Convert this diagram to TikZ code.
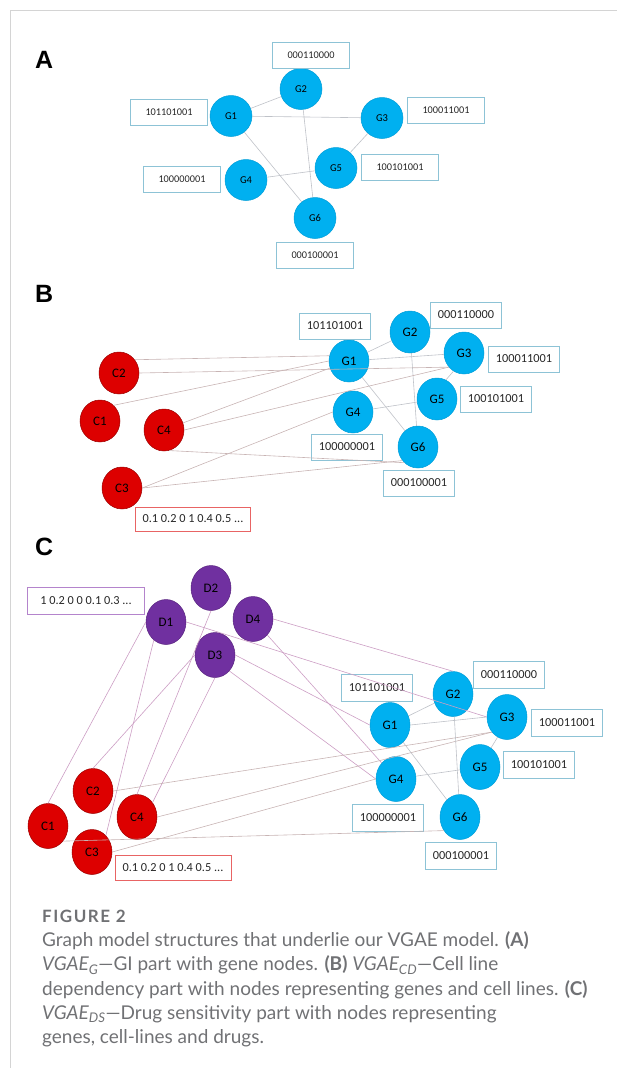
\documentclass[tikz,border=0pt]{standalone}
\usepackage{fontspec}
\setmainfont{Lato}
\newfontfamily\carlito{Carlito}
\newfontfamily\arialbold{Liberation Sans}
\usetikzlibrary{shapes.geometric}

\definecolor{genecyan}{HTML}{00B0F0}
\definecolor{cellred}{HTML}{DD0000}
\definecolor{drugpurple}{HTML}{7030A0}
\definecolor{boxblue}{HTML}{8DC3D6}
\definecolor{boxred}{HTML}{E86464}
\definecolor{boxpurple}{HTML}{B484CC}
\definecolor{edgegray}{HTML}{BFC2C8}
\definecolor{edgerose}{HTML}{C8B4B4}
\definecolor{edgemauve}{HTML}{CC9EC4}
\definecolor{capgray}{HTML}{707174}
\definecolor{framegray}{HTML}{D4D4D4}

\tikzset{
  vertex/.style={ellipse, inner sep=0pt, line width=0.5pt, text=black,
    minimum width=40pt, minimum height=42pt,
    font=\carlito\fontsize{13}{13}\selectfont},
  gene/.style={vertex, fill=genecyan, draw=genecyan!90!black},
  cell/.style={vertex, fill=cellred, draw=cellred!70!black},
  drug/.style={vertex, fill=drugpurple, draw=drugpurple!80!black},
  sizeA/.style={minimum width=42pt, minimum height=41pt,
    font=\carlito\fontsize{10.5}{11}\selectfont},
  sizeC/.style={minimum width=40pt, minimum height=45pt},
  vec/.style={draw=boxblue, line width=0.8pt, inner sep=0pt, text=black!85,
    minimum width=71pt, minimum height=26pt,
    font=\carlito\fontsize{12.3}{13}\selectfont},
  vecA/.style={minimum width=77pt, font=\carlito\fontsize{10.3}{11}\selectfont},
  link/.style={edgegray, line width=0.6pt},
  rose/.style={edgerose, line width=0.6pt},
  mauve/.style={edgemauve, line width=0.6pt},
  letter/.style={anchor=base west, inner sep=0pt,
    font=\arialbold\bfseries\fontsize{25}{25}\selectfont},
  capline/.style={anchor=base west, inner sep=0pt, text=capgray,
    font=\fontsize{19}{22}\selectfont}
}

\begin{document}
\begin{tikzpicture}[x=1pt, y=-1pt]
\useasboundingbox (0,0) rectangle (617,1068);
\draw[framegray, line width=1pt] (617,10) -- (10,10) -- (10,1068);

\node[letter] (labA) at (35,68) {A};
\node[gene, sizeA] (aG1) at (231,116) {G1};
\node[gene, sizeA] (aG2) at (301,89) {G2};
\node[gene, sizeA] (aG3) at (382,118) {G3};
\node[gene, sizeA] (aG4) at (246,180) {G4};
\node[gene, sizeA] (aG5) at (336,168) {G5};
\node[gene, sizeA] (aG6) at (315,218) {G6};
\node[vec, vecA] (aV1) at (169,112) {101101001};
\node[vec, vecA] (aV2) at (311,55) {000110000};
\node[vec, vecA] (aV3) at (446,110) {100011001};
\node[vec, vecA] (aV4) at (182,179) {100000001};
\node[vec, vecA] (aV5) at (400,167) {100101001};
\node[vec, vecA] (aV6) at (315,255) {000100001};
\draw[link] (aG1) -- (aG2);
\draw[link] (aG1) -- (aG3);
\draw[link] (aG1) -- (aG6);
\draw[link] (aG2) -- (aG6);
\draw[link] (aG3) -- (aG5);
\draw[link] (aG4) -- (aG5);

\node[letter] (labB) at (35,302) {B};
\node[gene] (bG1) at (349,361) {G1};
\node[gene] (bG2) at (410,332) {G2};
\node[gene] (bG3) at (464,353) {G3};
\node[gene] (bG4) at (353,412) {G4};
\node[gene] (bG5) at (437,399) {G5};
\node[gene] (bG6) at (418,447) {G6};
\node[cell] (bC1) at (100,421) {C1};
\node[cell] (bC2) at (119,373) {C2};
\node[cell] (bC3) at (122,488) {C3};
\node[cell] (bC4) at (164,430) {C4};
\node[vec] (bV1) at (335,326) {101101001};
\node[vec] (bV2) at (466,315) {000110000};
\node[vec] (bV3) at (524,359) {100011001};
\node[vec] (bV4) at (347,447) {100000001};
\node[vec] (bV5) at (496,399) {100101001};
\node[vec] (bV6) at (419,483) {000100001};
\node[vec, draw=boxred, minimum width=115pt, minimum height=24pt] (bVc) at (193,519) {0.1 0.2 0 1 0.4 0.5 ...};
\draw[link] (bG1) -- (bG2);
\draw[link] (bG1) -- (bG3);
\draw[link] (bG1) -- (bG6);
\draw[link] (bG2) -- (bG6);
\draw[link] (bG3.-120) -- (bG5.65);
\draw[link] (bG4) -- (bG5);
\draw[rose] (bC2.40) -- (bG1.165);
\draw[rose] (bC2.east) -- (bG3.223);
\draw[rose] (bC1.49) -- (bG1.west);
\draw[rose] (bC4) -- (bG1);
\draw[rose] (bC4.east) -- (bG3.223);
\draw[rose] (bC4.-76) -- (bG6.229);
\draw[rose] (bC3.east) -- (bG4.west);
\draw[rose] (bC3.east) -- (bG6.221);

\node[letter] (labC) at (35,555) {C};
\node[drug, sizeC] (cD1) at (166,622) {D1};
\node[drug, sizeC] (cD2) at (211,588) {D2};
\node[drug, sizeC] (cD3) at (215,655) {D3};
\node[drug, sizeC] (cD4) at (253,619) {D4};
\node[cell, sizeC] (cC1) at (48,826) {C1};
\node[cell, sizeC] (cC2) at (93,791) {C2};
\node[cell, sizeC] (cC3) at (92,852) {C3};
\node[cell, sizeC] (cC4) at (137,817) {C4};
\node[gene, sizeC] (cG1) at (390,725) {G1};
\node[gene, sizeC] (cG2) at (453,694) {G2};
\node[gene, sizeC] (cG3) at (507,717) {G3};
\node[gene, sizeC] (cG4) at (396,779) {G4};
\node[gene, sizeC] (cG5) at (480,767) {G5};
\node[gene, sizeC] (cG6) at (460,817) {G6};
\node[vec, draw=boxpurple, minimum width=117pt, minimum height=27pt] (cVd) at (86,601) {1 0.2 0 0 0.1 0.3 ...};
\node[vec, minimum height=27pt] (cV1) at (377,688) {101101001};
\node[vec, minimum height=27pt] (cV2) at (509,675) {000110000};
\node[vec, minimum height=27pt] (cV3) at (567,723) {100011001};
\node[vec, minimum height=27pt] (cV4) at (388,818) {100000001};
\node[vec, minimum height=27pt] (cV5) at (539,765) {100101001};
\node[vec, minimum height=27pt] (cV6) at (461,856) {000100001};
\node[vec, draw=boxred, minimum width=116pt, minimum height=25pt] (cVc) at (173,868) {0.1 0.2 0 1 0.4 0.5 ...};
\draw[mauve] (cD1.east) -- (cG3.west);
\draw[mauve] (cD4.east) -- (cG2.north);
\draw[mauve] (cD4) -- (cG4);
\draw[mauve] (cD3.east) -- (cG1.west);
\draw[mauve] (cD3.-48) -- (cG4.west);
\draw[mauve] (cD1.west) -- (cC1.north);
\draw[mauve] (cD1.236) -- (cC3.50);
\draw[mauve] (cD2.south) -- (cC4.north);
\draw[mauve] (cD3.west) -- (cC2.north);
\draw[mauve] (cD3.south) -- (cC4.43);
\draw[rose] (cC2.east) -- (cG3.225);
\draw[rose] (cC4.east) -- (cG3.225);
\draw[rose] (cC3.east) -- (cG4.west);
\draw[rose] (cC1.-45) -- (cG6.220);
\draw[link] (cG1) -- (cG2);
\draw[link] (cG1.east) -- (cG3.west);
\draw[link] (cG1) -- (cG6);
\draw[link] (cG2) -- (cG6);
\draw[link] (cG3.-115) -- (cG5.60);
\draw[link] (cG4) -- (cG5);

\node[capline, font=\bfseries\fontsize{17}{22}\selectfont\addfontfeatures{LetterSpace=9}] (cap0) at (42,922) {FIGURE 2};
\node[capline] (cap1) at (42,946) {Graph model structures that underlie our VGAE model. \textbf{(A)}};
\node[capline] (cap2) at (42,970.5) {\textit{VGAE\textsubscript{G}}—GI part with gene nodes. \textbf{(B)} \textit{VGAE\textsubscript{CD}}—Cell line};
\node[capline] (cap3) at (42,995) {dependency part with nodes representing genes and cell lines. \textbf{(C)}};
\node[capline] (cap4) at (42,1019) {\textit{VGAE\textsubscript{DS}}—Drug sensitivity part with nodes representing};
\node[capline] (cap5) at (42,1043) {genes, cell-lines and drugs.};
\end{tikzpicture}
\end{document}
